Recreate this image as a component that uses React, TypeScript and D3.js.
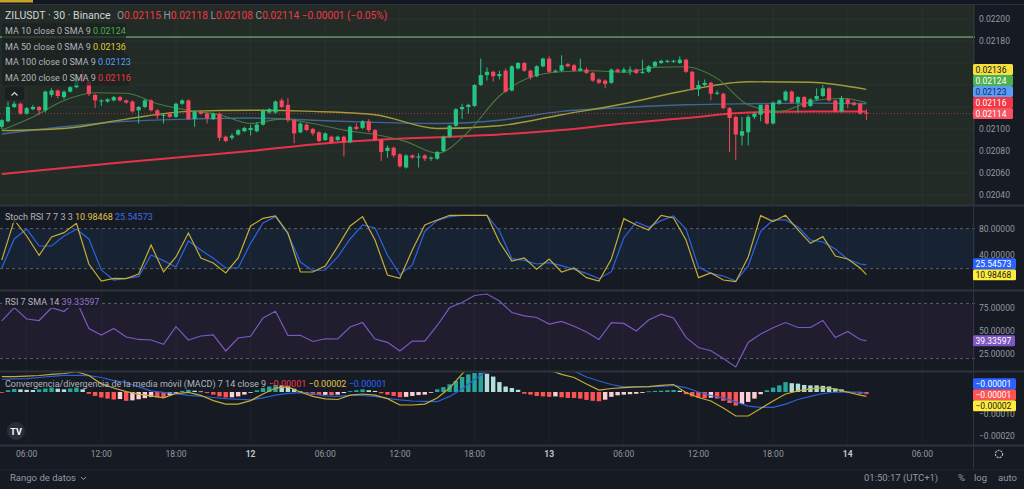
import React from "react";
import * as d3 from "d3";

// prices are stored in 1e-5 units (2114 = 0.02114), MACD in 1e-6 units
const opens = [
  2102, 2107, 2120, 2123, 2114, 2118, 2120, 2117, 2131, 2135,
  2129, 2134, 2138, 2150, 2143, 2131, 2125, 2125, 2126, 2129,
  2126, 2125, 2117, 2120, 2126, 2117, 2112, 2114, 2111, 2123,
  2126, 2109, 2116, 2114, 2109, 2114, 2093, 2092, 2095, 2098,
  2099, 2098, 2104, 2115, 2115, 2126, 2122, 2108, 2097, 2104,
  2100, 2097, 2090, 2093, 2090, 2093, 2088, 2102, 2101, 2107,
  2099, 2090, 2080, 2083, 2077, 2065, 2076, 2074, 2076, 2073,
  2073, 2080, 2093, 2103, 2118, 2120, 2121, 2140, 2149, 2152,
  2148, 2153, 2135, 2155, 2160, 2153, 2148, 2157, 2164, 2152,
  2153, 2159, 2158, 2153, 2154, 2151, 2145, 2144, 2142, 2154,
  2152, 2153, 2154, 2151, 2152, 2157, 2160, 2161, 2161, 2160,
  2163, 2152, 2136, 2140, 2142, 2132, 2132, 2119, 2111, 2094,
  2097, 2111, 2113, 2122, 2105, 2123, 2126, 2134, 2124, 2129,
  2121, 2127, 2130, 2137, 2126, 2116, 2127, 2124, 2123, 2115,
];
const highs = [
  2109, 2125, 2125, 2124, 2120, 2122, 2121, 2135, 2137, 2136,
  2135, 2139, 2150, 2153, 2144, 2132, 2127, 2128, 2130, 2130,
  2127, 2126, 2121, 2127, 2127, 2118, 2114, 2115, 2124, 2127,
  2127, 2117, 2117, 2115, 2115, 2115, 2094, 2096, 2100, 2102,
  2104, 2106, 2118, 2119, 2126, 2128, 2128, 2109, 2106, 2105,
  2101, 2098, 2097, 2094, 2094, 2094, 2103, 2105, 2108, 2109,
  2100, 2091, 2085, 2084, 2078, 2077, 2077, 2078, 2077, 2075,
  2080, 2094, 2104, 2119, 2123, 2123, 2141, 2164, 2156, 2153,
  2153, 2155, 2158, 2161, 2161, 2154, 2158, 2165, 2166, 2154,
  2167, 2160, 2159, 2164, 2156, 2152, 2146, 2145, 2155, 2155,
  2156, 2157, 2155, 2163, 2158, 2162, 2163, 2163, 2163, 2166,
  2164, 2153, 2144, 2145, 2143, 2135, 2133, 2120, 2112, 2111,
  2113, 2115, 2122, 2123, 2125, 2127, 2135, 2135, 2130, 2130,
  2128, 2137, 2140, 2138, 2127, 2130, 2128, 2125, 2124, 2118,
];
const lows = [
  2100, 2106, 2119, 2113, 2113, 2117, 2113, 2115, 2129, 2128,
  2127, 2133, 2137, 2142, 2130, 2119, 2121, 2124, 2125, 2125,
  2123, 2115, 2105, 2119, 2116, 2109, 2105, 2110, 2110, 2122,
  2108, 2102, 2113, 2105, 2108, 2089, 2088, 2090, 2094, 2097,
  2094, 2097, 2103, 2114, 2114, 2119, 2106, 2087, 2096, 2098,
  2094, 2088, 2089, 2087, 2089, 2075, 2087, 2099, 2100, 2097,
  2089, 2071, 2074, 2074, 2065, 2064, 2073, 2065, 2071, 2071,
  2072, 2079, 2092, 2102, 2109, 2114, 2120, 2139, 2144, 2143,
  2145, 2133, 2134, 2154, 2152, 2145, 2147, 2156, 2151, 2151,
  2152, 2156, 2152, 2152, 2150, 2143, 2141, 2137, 2141, 2151,
  2151, 2149, 2150, 2150, 2151, 2156, 2159, 2160, 2160, 2159,
  2151, 2135, 2130, 2139, 2126, 2131, 2118, 2079, 2072, 2085,
  2085, 2109, 2107, 2104, 2104, 2122, 2125, 2123, 2115, 2119,
  2120, 2126, 2129, 2125, 2115, 2115, 2119, 2121, 2113, 2108,
];
const closes = [
  2108, 2120, 2123, 2114, 2119, 2120, 2117, 2134, 2135, 2130,
  2134, 2138, 2148, 2143, 2132, 2126, 2126, 2127, 2129, 2126,
  2124, 2116, 2120, 2126, 2117, 2112, 2113, 2111, 2123, 2126,
  2109, 2116, 2114, 2110, 2114, 2092, 2089, 2094, 2099, 2101,
  2101, 2104, 2117, 2118, 2125, 2120, 2108, 2096, 2105, 2099,
  2096, 2089, 2096, 2088, 2093, 2088, 2102, 2100, 2107, 2099,
  2090, 2079, 2083, 2076, 2066, 2076, 2074, 2075, 2073, 2074,
  2079, 2093, 2103, 2118, 2120, 2122, 2140, 2149, 2152, 2148,
  2150, 2134, 2157, 2160, 2153, 2147, 2157, 2164, 2152, 2153,
  2158, 2157, 2153, 2155, 2151, 2144, 2142, 2141, 2154, 2152,
  2154, 2154, 2151, 2152, 2157, 2161, 2162, 2162, 2162, 2163,
  2152, 2136, 2140, 2142, 2132, 2133, 2119, 2110, 2095, 2098,
  2111, 2114, 2122, 2105, 2124, 2126, 2134, 2124, 2129, 2120,
  2127, 2130, 2137, 2126, 2116, 2128, 2123, 2122, 2114, 2114,
];

// moving averages, read every 5th / 10th candle (last value = last candle)
const ma10 = [2099, 2111, 2126, 2133, 2132.5, 2123, 2117, 2113, 2105, 2109, 2105, 2099, 2095, 2088.5, 2078, 2097.5, 2130, 2147, 2152, 2153, 2151.5, 2156, 2156.6, 2146, 2122, 2116, 2125, 2128, 2124];
const ma50 = [2098.5, 2100.5, 2109, 2116, 2117, 2116, 2113, 2100.5, 2103, 2113, 2123, 2135, 2143, 2142.5, 2136];
const ma100 = [2095.5, 2102, 2107, 2109, 2110, 2108, 2106, 2105, 2108, 2116, 2119.5, 2122, 2123, 2123.5, 2123];
const ma200 = [2059, 2064.5, 2070, 2075, 2080, 2086, 2090, 2092.5, 2095, 2099, 2105, 2110, 2115, 2116, 2116];

// oscillators, read every 2nd candle
const stochK = [33, 93, 69, 40, 67.5, 74, 88, 27, 1.5, 5.5, 5, 12, 55.5, 15, 37.5, 73.5, 36, 28.5, 13.5, 36, 84, 95.5, 99, 73.5, 15, 15, 24, 53, 84, 98, 63, 10.5, 5.5, 48, 85.5, 93, 100, 100, 100, 100, 60, 31.5, 36, 19, 34.5, 15, 21, 6.5, 1.5, 34.5, 95, 85.5, 78, 100, 96, 63, 6.5, 13.5, 3, 0.5, 37.5, 99.5, 90.5, 100, 78, 58, 68, 39, 34.5, 21, 10.98468];
const stochD = [21, 64.5, 79.5, 54, 54, 69, 79, 64.5, 18, 3, 5.5, 8, 40.5, 32, 22.5, 61.5, 48, 35.5, 21, 21, 58, 88.5, 98, 72, 30, 17, 18, 37.5, 64.5, 85.5, 81, 40.5, 11, 25.5, 76, 92, 98, 100, 100, 100, 76.5, 35, 32.5, 27, 29, 24.5, 19, 13, 5, 15.5, 66, 90, 82, 92, 99, 79.5, 22.5, 13, 9, 1.5, 24, 76, 93, 93, 82.5, 63, 60, 49.5, 34, 27, 25.54573];
const rsi = [61, 75.5, 63, 61.4, 75.3, 71.2, 83, 52.7, 45.7, 52.7, 43.5, 40.8, 40.2, 35.5, 54.7, 40.2, 44.6, 45.7, 28.3, 42.4, 44.3, 64.3, 71.4, 45.1, 45.4, 38.6, 41.6, 41.3, 54.3, 59.2, 41.3, 37.7, 28.3, 39.1, 39.1, 56, 75.5, 81, 88.6, 90.2, 82.6, 70.1, 66.5, 64.7, 57.6, 60.5, 55.1, 48.9, 40.7, 59.1, 58.3, 50, 62, 68.2, 64.1, 43, 32.1, 28.5, 20.1, 10.9, 37.5, 46.7, 53.5, 59.2, 53.8, 53.8, 61.4, 42.9, 49.5, 40.8, 39.33597];
const macd = [70, 70, 72, 75, 80, 84, 92, 75, 37, 18, 2, -10, -18, -27, -7, -2, -15, -39, -55, -55, -39, -9, 18, 23, 0, -20, -31, -34, -14, -9, -14, -30, -59, -59, -55, -27, 18, 82, 143, 178, 150, 145, 128, 112, 100, 80, 66, 36, 9, 16, 20, 23, 24, 30, 34, -2, -25, -41, -73, -109, -109, -75, -41, -9, 5, 14, 19, 14, -1, -14, -20];
const signal = [58, 60, 61, 66, 71, 76, 76, 74, 66, 52, 43, 23, 5, -2, -7, -15, -20, -25, -30, -33, -36, -27, -14, -6, -3, -7, -18, -20, -15, -16, -20, -29, -36, -41, -43, -44, -20, 14, 57, 95, 118, 132, 136, 132, 123, 109, 95, 68, 50, 34, 23, 23, 24, 25, 30, 20, 0, -16, -27, -45, -64, -70, -70, -55, -34, -20, -7, 0, -1, -1, -8];
// histogram, one per candle
const hist = [
  -2, 8, 14, 12, 10, 9, 12, 16, 20, 15,
  12, 16, 20, 12, -8, -18, -25, -30, -34, -32,
  -40, -38, -33, -28, -23, -24, -25, -15, -3, 5,
  10, 6, 3, -5, -12, -20, -25, -24, -20, -12,
  -3, 8, 18, 25, 32, 30, 28, 15, 3, -6,
  -13, -14, -13, -14, -12, -5, 4, 8, 12, 8,
  5, -6, -12, -18, -24, -22, -18, -14, -12, -2,
  12, 22, 35, 50, 68, 80, 86, 88, 83, 70,
  45, 25, 18, 10, -8, -12, -18, -20, -22, -20,
  -24, -27, -27, -30, -36, -40, -42, -35, -22, -15,
  -12, -10, -8, -4, 3, 5, 6, 8, 9, 6,
  -10, -20, -26, -28, -26, -30, -40, -50, -62, -55,
  -45, -30, -10, 8, 20, 30, 45, 40, 38, 32,
  30, 30, 28, 25, 15, 12, 2, -4, -8, -10,
];

const hLinePrice = 2183.6;
const priceTicks = [2040, 2060, 2080, 2100, 2120, 2140, 2160, 2180, 2200];
const stochTicks = [0, 40, 80];
const rsiTicks = [25, 50, 75];
const macdTicks = [0, -100, -200];

const N = closes.length;
const t0 = Date.UTC(2024, 0, 11, 4, 0);
const times = d3.range(N).map((i) => new Date(t0 + i * 30 * 60000));
const sampled = (step: number) => [...d3.range(0, N, step), N - 1];

const W = 1024;
const H = 489;
const AX = 975;
const FONT = "Roboto, 'Noto Sans', sans-serif";

const UP = "#26c281";
const DOWN = "#f6465d";

const fmtP = (v: number) => (v / 1e5).toFixed(5);
const fmtM = (v: number) => (v * 1e-6).toFixed(5).replace("-", "\u2212");

function stackUp(items: any[], yScale: (v: number) => number, h = 11) {
  const sorted = [...items].sort((a, b) => a.v - b.v);
  let prev = Infinity;
  return sorted.map((it) => {
    const cy = Math.min(yScale(it.v), prev - h);
    prev = cy;
    return { ...it, cy };
  });
}

// drop axis labels that would sit under a value tag
const freeOf = (tags: any[]) => (y: number) => tags.every((t) => Math.abs(t.cy - y) > 7.5);

export default function App() {
  const x = d3.scaleUtc().domain([times[0], times[N - 1]]).range([1.8, 866.4]);
  const yP = d3.scaleLinear().domain([2040, 2200]).range([195, 19]);
  const yS = d3.scaleLinear().domain([0, 100]).range([282, 215.3]);
  const yR = d3.scaleLinear().domain([20, 80]).range([358.6, 303.4]);
  const yM = d3.scaleLinear().domain([-200, 0]).range([436, 392]);

  const ticks = d3.utcHour.every(6)!.range(new Date(Date.UTC(2024, 0, 11, 6)), new Date(Date.UTC(2024, 0, 14, 7)));

  const mkLine = (vals: number[], step: number, ys: (v: number) => number, curve = d3.curveLinear) => {
    const ix = sampled(step);
    return d3
      .line<number>()
      .x((_, k) => x(times[ix[k]]))
      .y((v) => ys(v))
      .curve(curve)(vals) || "";
  };

  const mainTags = stackUp(
    [
      { v: 2136, t: "0.02136", bg: "#f5df3c", fg: "#131722" },
      { v: 2124, t: "0.02124", bg: "#4caf50", fg: "#ffffff" },
      { v: 2123, t: "0.02123", bg: "#5b9cf6", fg: "#0d2a5c" },
      { v: 2116, t: "0.02116", bg: "#f23645", fg: "#ffffff" },
      { v: 2114, t: "0.02114", bg: "#f7525f", fg: "#ffffff" },
    ],
    yP
  );
  const stochTags = stackUp(
    [
      { v: 25.54573, t: "25.54573", bg: "#2962ff", fg: "#ffffff" },
      { v: 10.98468, t: "10.98468", bg: "#ffeb3b", fg: "#131722" },
    ],
    yS
  );
  const rsiTags = [{ v: 39.33597, t: "39.33597", bg: "#7e57c2", fg: "#ffffff", cy: yR(39.33597) }];
  const macdGroup = [
    { v: -8, t: fmtM(-10), bg: "#2962ff", fg: "#ffffff" },
    { v: -10, t: fmtM(-10), bg: "#ff5252", fg: "#ffffff" },
    { v: -20, t: fmtM(-20), bg: "#ffeb3b", fg: "#131722" },
  ];
  const mMean = d3.mean(macdGroup, (d) => yM(d.v))!;
  const macdTags = macdGroup.map((d, k) => ({ ...d, cy: mMean + (k - 1) * 11 }));

  const tag = (d: any, key: string, w = 40) => (
    <g key={key}>
      <rect x={973} y={d.cy - 5.5} width={w} height={11} rx={1.5} fill={d.bg} />
      <text x={975.5} y={d.cy + 3.2} fontSize={8.5} fill={d.fg}>
        {d.t}
      </text>
    </g>
  );

  const bw = 4.2;

  return (
    <div style={{ position: "fixed", left: 0, top: 0 }}>
      <svg width={W} height={H} fontFamily={FONT}>
        <defs>
          <clipPath id="cMain"><rect x={0} y={4} width={AX} height={201} /></clipPath>
          <clipPath id="cStoch"><rect x={0} y={206} width={AX} height={84} /></clipPath>
          <clipPath id="cRsi"><rect x={0} y={291} width={AX} height={80} /></clipPath>
          <clipPath id="cMacd"><rect x={0} y={372} width={AX} height={73} /></clipPath>
        </defs>
        <rect width={W} height={H} fill="#161a23" />
        <rect x={0} y={0} width={W} height={4} fill="#131722" />
        <rect x={0} y={0} width={33} height={2.5} fill="#c9a227" />

        {/* pane backgrounds */}
        <rect x={0} y={4} width={AX} height={201} fill="#222b26" />
        <rect x={0} y={yS(80)} width={AX} height={yS(20) - yS(80)} fill="#172332" />
        <rect x={0} y={yR(80)} width={AX} height={yR(20) - yR(80)} fill="#1f1d2e" />

        {/* grid */}
        {ticks.map((t, k) => (
          <line key={"vg" + k} x1={x(t)} x2={x(t)} y1={4} y2={445} stroke="#ffffff" strokeOpacity={0.035} />
        ))}
        {priceTicks.map((p) => (
          <line key={"hg" + p} x1={0} x2={AX} y1={yP(p)} y2={yP(p)} stroke="#ffffff" strokeOpacity={0.03} />
        ))}

        {/* main pane */}
        <g clipPath="url(#cMain)">
          <line x1={0} x2={AX} y1={yP(hLinePrice)} y2={yP(hLinePrice)} stroke="#8bc98e" strokeWidth={1} />
          <path d={mkLine(ma200, 10, yP, d3.curveMonotoneX)} fill="none" stroke="#e8314a" strokeWidth={2} />
          <path d={mkLine(ma100, 10, yP, d3.curveMonotoneX)} fill="none" stroke="#3f6594" strokeWidth={1.4} />
          <path d={mkLine(ma50, 10, yP, d3.curveMonotoneX)} fill="none" stroke="#9f9a3a" strokeWidth={1.4} />
          <path d={mkLine(ma10, 5, yP, d3.curveMonotoneX)} fill="none" stroke="#477a42" strokeWidth={1.1} />
          <line x1={0} x2={AX} y1={yP(2114)} y2={yP(2114)} stroke={DOWN} strokeOpacity={0.55} strokeDasharray="1,2" />
          {closes.map((c, i) => {
            const o = opens[i];
            const col = c >= o ? UP : DOWN;
            const cx = x(times[i]);
            const top = yP(Math.max(o, c));
            const bh = Math.max(1, yP(Math.min(o, c)) - top);
            return (
              <g key={"c" + i}>
                <line x1={cx} x2={cx} y1={yP(highs[i])} y2={yP(lows[i])} stroke={col} strokeWidth={1} />
                <rect x={cx - bw / 2} y={top} width={bw} height={bh} fill={col} />
              </g>
            );
          })}
        </g>

        {/* stoch rsi */}
        <g clipPath="url(#cStoch)">
          {[80, 20].map((v) => (
            <line key={"sd" + v} x1={0} x2={AX} y1={yS(v)} y2={yS(v)} stroke="#787b86" strokeOpacity={0.7} strokeDasharray="3,3" />
          ))}
          <path d={mkLine(stochD, 2, yS)} fill="none" stroke="#2f62e0" strokeWidth={1.2} />
          <path d={mkLine(stochK, 2, yS)} fill="none" stroke="#c4ae35" strokeWidth={1.2} />
        </g>

        {/* rsi */}
        <g clipPath="url(#cRsi)">
          {[80, 20].map((v) => (
            <line key={"rd" + v} x1={0} x2={AX} y1={yR(v)} y2={yR(v)} stroke="#787b86" strokeOpacity={0.7} strokeDasharray="3,3" />
          ))}
          <path d={mkLine(rsi, 2, yR)} fill="none" stroke="#7e57c2" strokeWidth={1.2} />
        </g>

        {/* macd */}
        <g clipPath="url(#cMacd)">
          {hist.map((h, i) => {
            const prev = i > 0 ? hist[i - 1] : h;
            const col = h >= 0 ? (prev < h ? "#26a69a" : "#b2dfdb") : prev < h ? "#ffcdd2" : "#ff5252";
            const y0 = yM(0);
            const y1 = yM(h);
            return (
              <rect key={"h" + i} x={x(times[i]) - 2.2} y={Math.min(y0, y1)} width={4.4} height={Math.max(0.8, Math.abs(y1 - y0))} fill={col} />
            );
          })}
          <path d={mkLine(signal, 2, yM)} fill="none" stroke="#2d5fd8" strokeWidth={1.2} />
          <path d={mkLine(macd, 2, yM)} fill="none" stroke="#c4ae35" strokeWidth={1.2} />
        </g>

        {/* separators */}
        {[4.5, 205.5, 290.5, 371.5, 445.5].map((y) => (
          <line key={"sep" + y} x1={0} x2={W} y1={y} y2={y} stroke="#2f333e" strokeWidth={y === 4.5 ? 1 : 2} />
        ))}
        <line x1={AX - 1.5} x2={AX - 1.5} y1={4} y2={470} stroke="#2f333e" strokeWidth={1} />
        <line x1={0} x2={W} y1={470} y2={470} stroke="#1f232d" />

        {/* right axes */}
        <g fontSize={8.5} fill="#9598a1">
          {priceTicks.filter((p) => freeOf(mainTags)(yP(p))).map((p) => (
            <text key={"pt" + p} x={979} y={yP(p) + 3}>{fmtP(p)}</text>
          ))}
          {stochTicks.filter((v) => freeOf(stochTags)(yS(v))).map((v) => (
            <text key={"st" + v} x={979} y={yS(v) + 3}>{v.toFixed(5)}</text>
          ))}
          {rsiTicks.filter((v) => freeOf(rsiTags)(yR(v))).map((v) => (
            <text key={"rt" + v} x={979} y={yR(v) + 3}>{v.toFixed(5)}</text>
          ))}
          {macdTicks.filter((v) => freeOf(macdTags)(yM(v))).map((v) => (
            <text key={"mt" + v} x={979} y={yM(v) + 3}>{fmtM(v)}</text>
          ))}
        </g>
        {mainTags.map((d, k) => tag(d, "mt" + k, 40))}
        {stochTags.map((d, k) => tag(d, "stg" + k, 43))}
        {rsiTags.map((d, k) => tag(d, "rtg" + k, 42))}
        {macdTags.map((d, k) => tag(d, "mtg" + k, 43))}

        {/* time axis */}
        <g fontSize={8.5} fill="#9598a1" textAnchor="middle">
          {ticks.map((t, k) => {
            const isDay = t.getUTCHours() === 0;
            return (
              <text key={"tt" + k} x={x(t)} y={457} fontWeight={isDay ? "bold" : "normal"} fill={isDay ? "#c3c6ce" : "#9598a1"}>
                {isDay ? d3.utcFormat("%-d")(t) : d3.utcFormat("%H:%M")(t)}
              </text>
            );
          })}
        </g>
        <circle cx={999} cy={454} r={3.6} fill="none" stroke="#b2b5be" strokeWidth={1.2} strokeDasharray="2,1" />

        {/* bottom bar */}
        <g fontSize={9.5} fill="#9598a1">
          <text x={10} y={481}>Rango de datos</text>
          <path d="M81,477 l2.5,2.5 l2.5,-2.5" fill="none" stroke="#9598a1" />
          <text x={864} y={481}>01:50:17 (UTC+1)</text>
          <text x={958} y={481}>%</text>
          <text x={974} y={481}>log</text>
          <text x={998} y={481}>auto</text>
        </g>

        {/* TV logo */}
        <circle cx={16} cy={431} r={9} fill="#2a2e39" />
        <text x={16} y={434.5} fontSize={9} fontWeight="bold" fill="#ffffff" textAnchor="middle">TV</text>

        {/* main legend */}
        <text x={5} y={18.5} fontSize={10.5} fill="#d1d4dc">ZILUSDT · 30 · Binance</text>
        <text x={117} y={18.5} fontSize={10.2} fill="#9598a1">
          O<tspan fill="#f23645">0.02115</tspan> H<tspan fill="#f23645">0.02118</tspan> L<tspan fill="#f23645">0.02108</tspan> C<tspan fill="#f23645">0.02114</tspan>{" "}
          <tspan fill="#f23645">{"\u22120.00001 (\u22120.05%)"}</tspan>
        </text>
        {[
          { y: 31, label: "MA 10 close 0 SMA 9", val: "0.02124", c: "#4caf50", w: 124 },
          { y: 46.5, label: "MA 50 close 0 SMA 9", val: "0.02136", c: "#e0cc37", w: 122 },
          { y: 62, label: "MA 100 close 0 SMA 9", val: "0.02123", c: "#5b9cf6", w: 127 },
          { y: 78, label: "MA 200 close 0 SMA 9", val: "0.02116", c: "#f23645", w: 127 },
        ].map((r) => (
          <g key={r.label}>
            <rect x={2} y={r.y - 7.5} width={r.w} height={15} fill="#1b201e" fillOpacity={0.72} />
            <text x={5} y={r.y + 3} fontSize={9} fill="#b2b5be">
              {r.label} <tspan fill={r.c}>{r.val}</tspan>
            </text>
          </g>
        ))}
        <rect x={5} y={87} width={19} height={13} rx={2} fill="#1b1f22" />
        <path d="M11.5,95.5 l3,-3 l3,3" fill="none" stroke="#d1d4dc" strokeWidth={1.2} />

        {/* oscillator legends */}
        <rect x={2} y={209} width={151} height={14} fill="#161a23" fillOpacity={0.8} />
        <text x={5} y={219.5} fontSize={9} fill="#b2b5be">
          Stoch RSI 7 7 3 3 <tspan fill="#e0c74a">10.98468</tspan> <tspan fill="#3b6ee8">25.54573</tspan>
        </text>
        <rect x={2} y={294} width={97} height={14} fill="#1a1a27" fillOpacity={0.85} />
        <text x={5} y={304.5} fontSize={9} fill="#b2b5be">
          RSI 7 SMA 14 <tspan fill="#9575cd">39.33597</tspan>
        </text>
        <text x={5} y={386.5} fontSize={9} fill="#b2b5be">
          Convergencia/divergencia de la media móvil (MACD) 7 14 close 9 <tspan fill="#f23645">{"\u22120.00001"}</tspan>{" "}
          <tspan fill="#e0c74a">{"\u22120.00002"}</tspan> <tspan fill="#2962ff">{"\u22120.00001"}</tspan>
        </text>
      </svg>
    </div>
  );
}
